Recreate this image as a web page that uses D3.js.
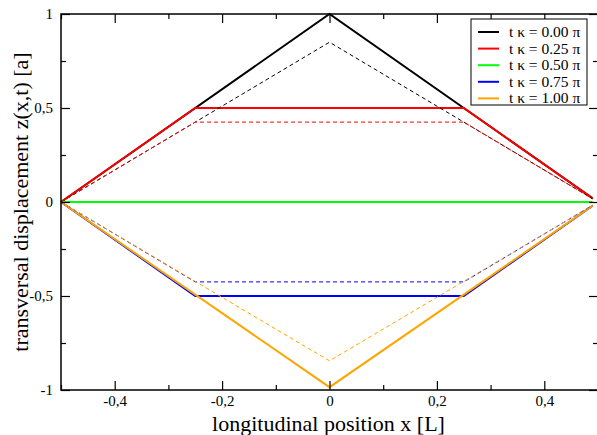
<!DOCTYPE html>
<html>
<head>
<meta charset="utf-8">
<script src="https://cdn.jsdelivr.net/npm/d3@7"></script>
<style>
  body { margin: 0; background: #fff; }
  svg { display: block; }
  svg text { font-family: "Liberation Serif", "Times New Roman", serif; }
</style>
</head>
<body>
<svg id="chart" width="597" height="435"></svg>
<script>
'use strict';

// legend labels and colours, one per time step
const labels = ["t \u03ba = 0.00 \u03c0", "t \u03ba = 0.25 \u03c0", "t \u03ba = 0.50 \u03c0", "t \u03ba = 0.75 \u03c0", "t \u03ba = 1.00 \u03c0"];
const colors = ["#000000", "#ff0000", "#00ff00", "#0000ff", "#ffa500"];

// solid curves (x in [L], z in [a])
const solidX = [
    [-0.5, 0, 0.49],
    [-0.5, -0.25, 0.25, 0.49],
    [-0.5, 0.49],
    [-0.5, -0.25, 0.25, 0.49],
    [-0.5, 0, 0.49]
];
const solidZ = [
    [0, 1, 0.02],
    [0, 0.5, 0.5, 0.02],
    [0, 0],
    [0, -0.5, -0.5, -0.02],
    [0, -0.985, -0.02]
];

// dashed curves
const dashX = [
    [-0.5, 0, 0.49],
    [-0.5, -0.25, 0.25, 0.49],
    [-0.5, 0.49],
    [-0.5, -0.25, 0.25, 0.49],
    [-0.5, 0, 0.49]
];
const dashZ = [
    [0, 0.85, 0.017],
    [0, 0.425, 0.425, 0.017],
    [0, 0],
    [0, -0.425, -0.425, -0.017],
    [0, -0.845, -0.017]
];

const xMajor = [-0.4, -0.2, 0, 0.2, 0.4];
const xMinor = [-0.5, -0.3, -0.1, 0.1, 0.3, 0.5];
const yMajor = [-1, -0.5, 0, 0.5, 1];
const yMinor = [-0.75, -0.25, 0.25, 0.75];

const fmt = d => d === 0 ? "0" : String(d).replace(".", ",");

function drawChart() {
    let margin = { top: 14, right: 0, bottom: 45, left: 61 };
    let width = 537, height = 376;
    let svg = d3.select("#chart");
    let g = svg.append("g").attr("transform", `translate(${margin.left},${margin.top})`);

    let x = d3.scaleLinear().domain([-0.5, 0.5]).range([0, width]);
    let y = d3.scaleLinear().domain([-1, 1]).range([height, 0]);

    let line = d3.line().x(d => x(d[0])).y(d => y(d[1]));

    // solid lines
    solidX.forEach((xs, i) => {
        g.append("path")
            .datum(xs.map((v, j) => [v, solidZ[i][j]]))
            .attr("d", line)
            .attr("fill", "none")
            .attr("stroke", colors[i])
            .attr("stroke-width", 2);
    });
    // dashed lines
    dashX.forEach((xs, i) => {
        g.append("path")
            .datum(xs.map((v, j) => [v, dashZ[i][j]]))
            .attr("d", line)
            .attr("fill", "none")
            .attr("stroke", colors[i])
            .attr("stroke-width", 1)
            .attr("stroke-dasharray", "4,3");
    });

    // axes, ticks inside
    let addAxis = (axis, tr) => {
        let a = g.append("g").attr("transform", tr).call(axis);
        a.attr("font-family", null).attr("font-size", null);
        a.select(".domain").remove();
        a.selectAll("line").attr("stroke", "#000").attr("stroke-width", 1.2);
        a.selectAll("text").style("font-size", "15px").attr("fill", "#000");
        return a;
    };
    addAxis(d3.axisBottom(x).tickValues(xMajor).tickSizeInner(-9).tickSizeOuter(0).tickPadding(5).tickFormat(fmt), `translate(0,${height})`);
    addAxis(d3.axisBottom(x).tickValues(xMinor).tickSizeInner(-5).tickSizeOuter(0).tickFormat(""), `translate(0,${height})`);
    addAxis(d3.axisTop(x).tickValues(xMajor).tickSizeInner(-9).tickSizeOuter(0).tickFormat(""), `translate(0,0)`);
    addAxis(d3.axisTop(x).tickValues(xMinor).tickSizeInner(-5).tickSizeOuter(0).tickFormat(""), `translate(0,0)`);
    addAxis(d3.axisLeft(y).tickValues(yMajor).tickSizeInner(-9).tickSizeOuter(0).tickPadding(8).tickFormat(fmt), `translate(0,0)`);
    addAxis(d3.axisLeft(y).tickValues(yMinor).tickSizeInner(-5).tickSizeOuter(0).tickFormat(""), `translate(0,0)`);
    addAxis(d3.axisRight(y).tickValues(yMajor).tickSizeInner(-9).tickSizeOuter(0).tickFormat(""), `translate(${width},0)`);
    addAxis(d3.axisRight(y).tickValues(yMinor).tickSizeInner(-5).tickSizeOuter(0).tickFormat(""), `translate(${width},0)`);

    // frame
    g.append("rect")
        .attr("width", width).attr("height", height)
        .attr("fill", "none").attr("stroke", "#000").attr("stroke-width", 1.5);

    // axis titles
    svg.append("text")
        .attr("x", margin.left + width / 2 - 1)
        .attr("y", 431)
        .attr("text-anchor", "middle")
        .style("font-size", "22px")
        .text("longitudinal position x [L]");
    svg.append("text")
        .attr("transform", `translate(28,${margin.top + height / 2}) rotate(-90)`)
        .attr("text-anchor", "middle")
        .style("font-size", "22px")
        .text("transversal displacement z(x,t) [a]");

    // legend
    let legend = svg.append("g").attr("transform", "translate(471,19)");
    legend.append("rect")
        .attr("width", 116).attr("height", 86)
        .attr("fill", "#fff").attr("stroke", "#000").attr("stroke-width", 1);
    labels.forEach((lab, i) => {
        let ly = 13 + i * 16.6;
        legend.append("line")
            .attr("x1", 7).attr("x2", 28).attr("y1", ly).attr("y2", ly)
            .attr("stroke", colors[i]).attr("stroke-width", 2);
        legend.append("text")
            .attr("x", 38).attr("y", ly + 5)
            .style("font-size", "15.5px")
            .text(lab);
    });
}

drawChart();
</script>
</body>
</html>
